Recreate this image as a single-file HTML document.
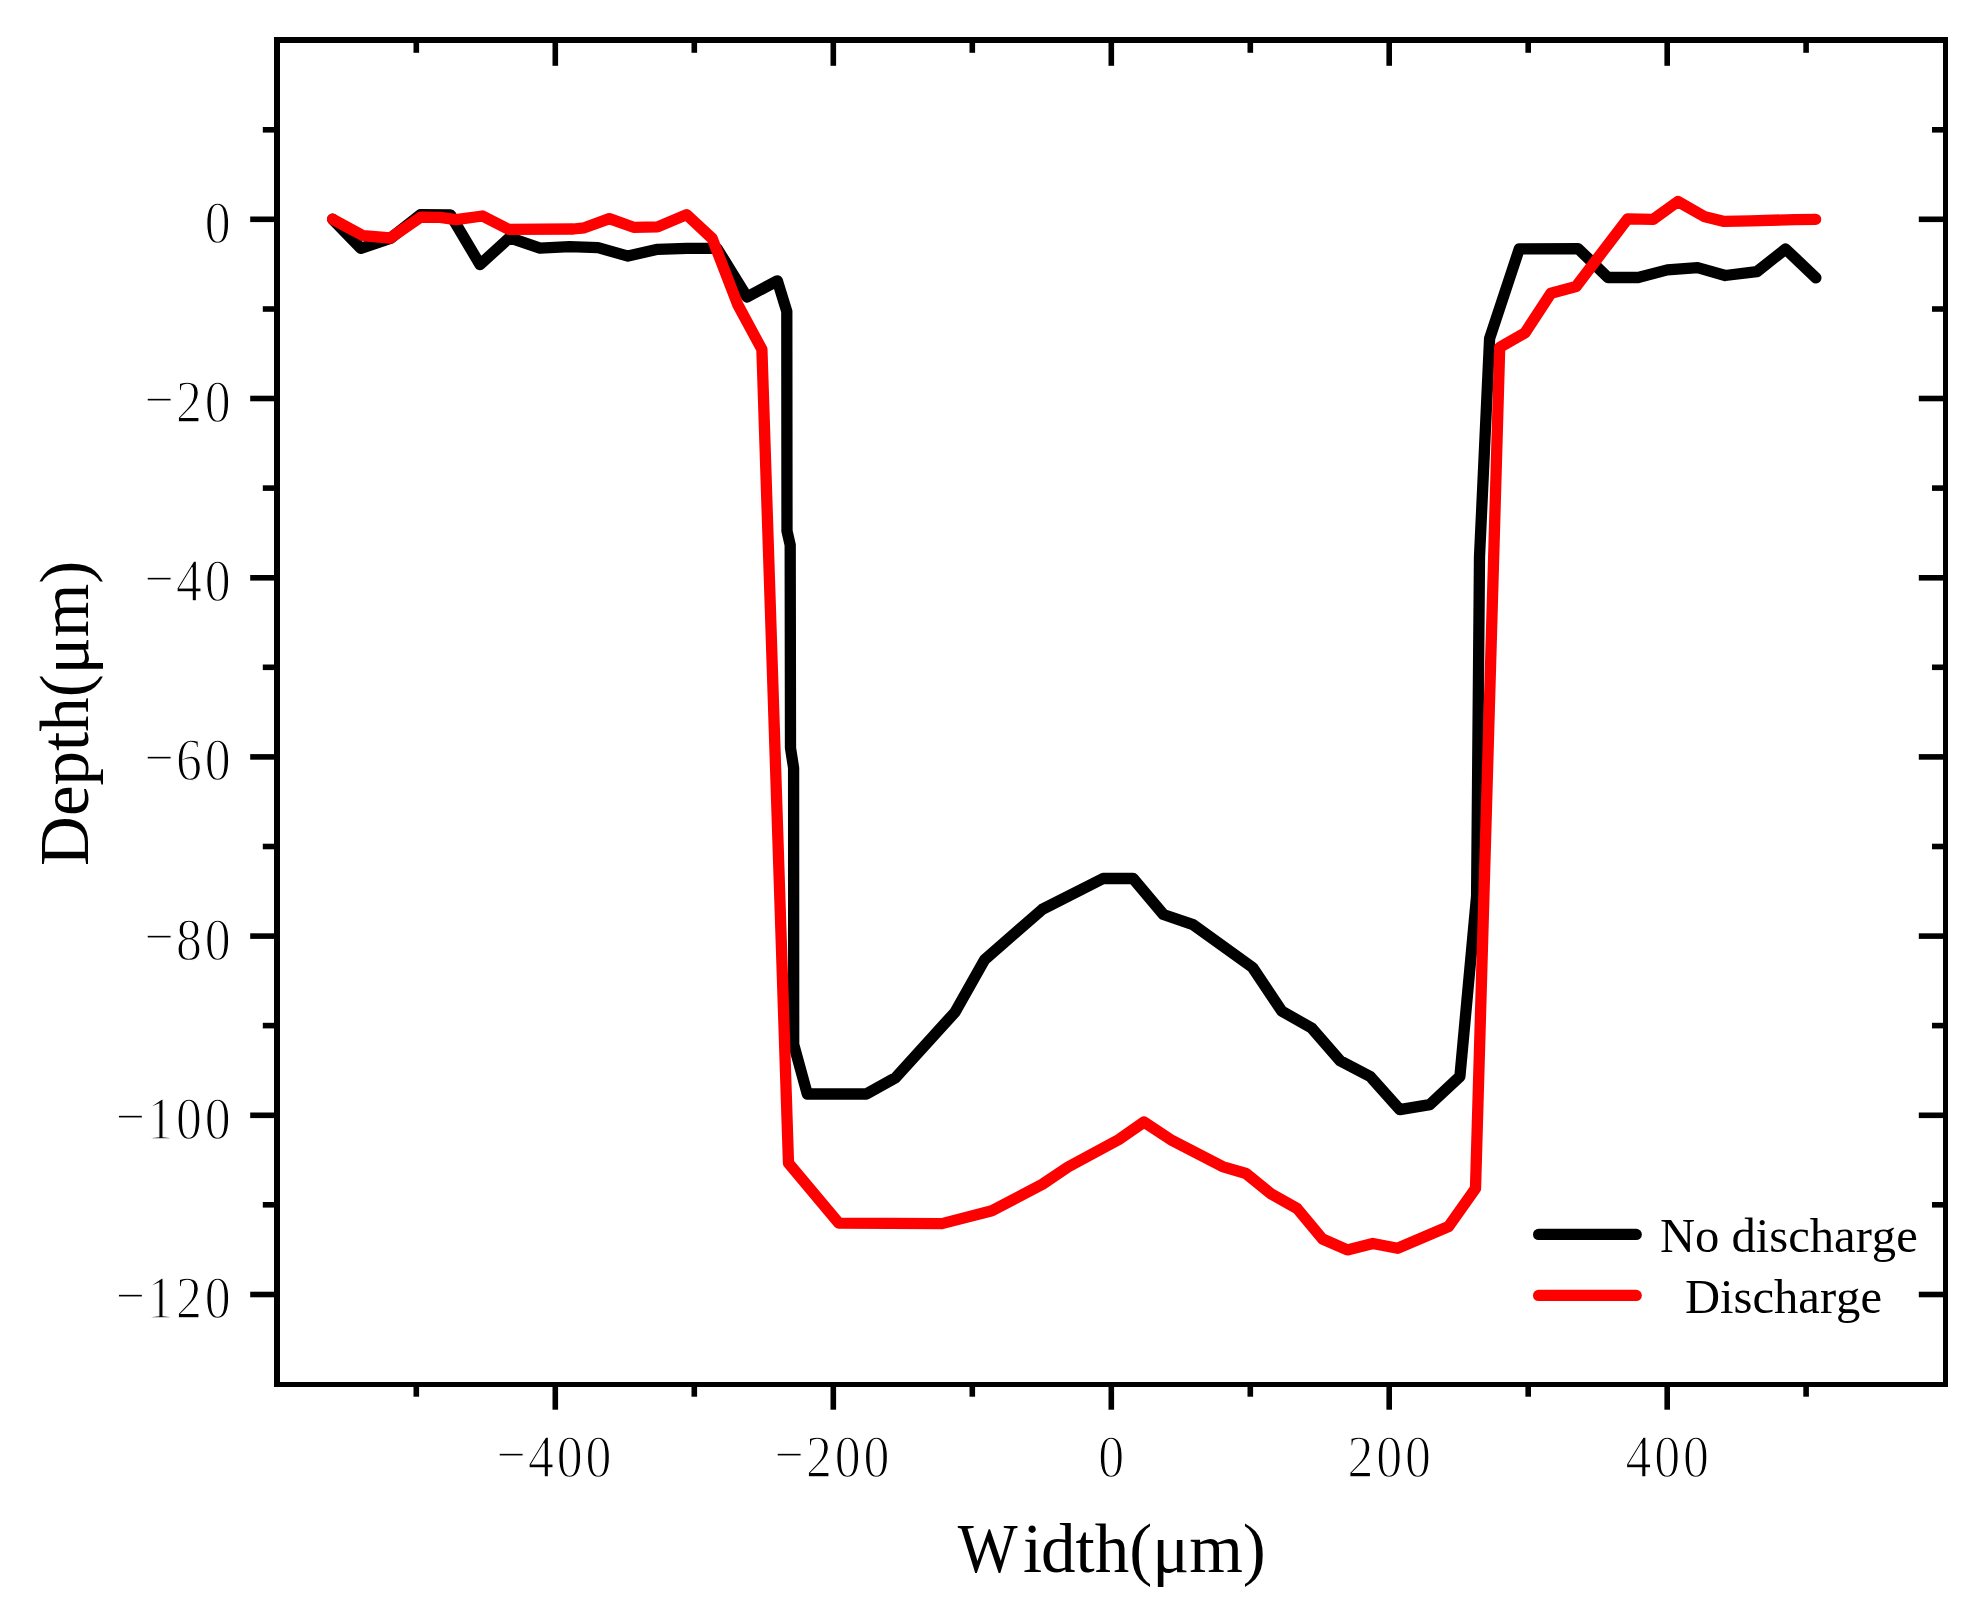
<!DOCTYPE html>
<html lang="en">
<head>
<meta charset="utf-8">
<title>Depth vs Width</title>
<style>
html,body{margin:0;padding:0;background:#fff;}
body{width:1979px;height:1605px;overflow:hidden;}
svg{display:block;}
text{font-family:"Liberation Serif","Times New Roman",serif;fill:#000;font-kerning:none;}
.tk{font-size:57.6px;stroke:#fff;stroke-width:1.3px;}
.ax{font-size:69px;}
.lg{font-size:48.6px;}
</style>
</head>
<body>
<svg width="1979" height="1605" viewBox="0 0 1979 1605">
<rect x="0" y="0" width="1979" height="1605" fill="#fff"/>
<polyline fill="none" stroke="#000" stroke-width="11.3" stroke-linejoin="round" stroke-linecap="round" points="332.6,219.2 360.8,248.3 390.3,238.5 420.5,214.6 450.5,214.8 480.0,264.6 509.5,237.7 540.0,248.2 569.5,246.6 598.0,247.6 628.0,256.1 657.6,249.3 687.0,248.4 717.0,248.4 747.0,297.0 777.4,280.8 786.8,311.4 787.0,531.0 790.2,545.0 790.5,748.0 793.6,768.0 793.7,1044.4 807.3,1094.0 866.3,1094.0 895.5,1077.8 955.0,1012.2 984.6,959.7 1042.2,909.4 1103.1,878.5 1133.1,878.5 1163.4,914.5 1193.0,924.6 1252.6,967.5 1281.8,1011.2 1311.8,1028.2 1340.1,1060.8 1370.2,1076.5 1399.7,1109.6 1429.8,1104.6 1459.9,1076.5 1476.6,896.0 1479.5,557.0 1489.6,338.6 1519.3,248.8 1578.2,248.7 1607.9,277.5 1638.2,277.5 1667.3,269.9 1697.6,267.6 1725.2,275.5 1756.8,271.7 1785.6,249.0 1815.9,277.8"/>
<polyline fill="none" stroke="#f00" stroke-width="11.3" stroke-linejoin="round" stroke-linecap="round" points="332.6,219.2 363.0,235.6 390.3,238.0 420.7,217.2 440.0,217.4 456.0,219.6 482.5,216.0 508.5,229.3 573.4,229.0 584.3,227.8 609.4,218.6 633.6,227.3 657.6,226.9 686.6,214.6 712.2,238.5 737.8,304.8 761.9,349.4 788.5,1163.2 838.8,1223.1 941.9,1223.6 991.9,1210.8 1042.4,1184.3 1068.2,1166.9 1118.7,1139.6 1144.0,1122.0 1172.2,1140.6 1222.5,1166.6 1246.0,1173.5 1271.3,1194.0 1297.1,1208.5 1322.5,1239.0 1347.3,1249.9 1372.8,1243.5 1397.6,1248.3 1448.6,1226.5 1475.5,1188.5 1499.7,347.4 1525.0,332.9 1551.0,293.2 1576.1,286.5 1627.6,218.8 1653.2,219.3 1677.9,201.5 1704.9,216.8 1724.2,221.4 1750.7,220.8 1794.7,219.6 1815.6,219.4"/>
<g stroke="#000" stroke-width="5.6" fill="none">
<line x1="277.05" y1="219.3" x2="250.2" y2="219.3"/><line x1="1945.5" y1="219.3" x2="1918.8" y2="219.3"/>
<line x1="277.05" y1="398.5" x2="250.2" y2="398.5"/><line x1="1945.5" y1="398.5" x2="1918.8" y2="398.5"/>
<line x1="277.05" y1="577.8" x2="250.2" y2="577.8"/><line x1="1945.5" y1="577.8" x2="1918.8" y2="577.8"/>
<line x1="277.05" y1="756.9" x2="250.2" y2="756.9"/><line x1="1945.5" y1="756.9" x2="1918.8" y2="756.9"/>
<line x1="277.05" y1="936.1" x2="250.2" y2="936.1"/><line x1="1945.5" y1="936.1" x2="1918.8" y2="936.1"/>
<line x1="277.05" y1="1115.3" x2="250.2" y2="1115.3"/><line x1="1945.5" y1="1115.3" x2="1918.8" y2="1115.3"/>
<line x1="277.05" y1="1294.5" x2="250.2" y2="1294.5"/><line x1="1945.5" y1="1294.5" x2="1918.8" y2="1294.5"/>
<line x1="277.05" y1="129.8" x2="262.8" y2="129.8"/><line x1="1945.5" y1="129.8" x2="1932" y2="129.8"/>
<line x1="277.05" y1="309.0" x2="262.8" y2="309.0"/><line x1="1945.5" y1="309.0" x2="1932" y2="309.0"/>
<line x1="277.05" y1="488.1" x2="262.8" y2="488.1"/><line x1="1945.5" y1="488.1" x2="1932" y2="488.1"/>
<line x1="277.05" y1="667.3" x2="262.8" y2="667.3"/><line x1="1945.5" y1="667.3" x2="1932" y2="667.3"/>
<line x1="277.05" y1="846.5" x2="262.8" y2="846.5"/><line x1="1945.5" y1="846.5" x2="1932" y2="846.5"/>
<line x1="277.05" y1="1025.6" x2="262.8" y2="1025.6"/><line x1="1945.5" y1="1025.6" x2="1932" y2="1025.6"/>
<line x1="277.05" y1="1204.8" x2="262.8" y2="1204.8"/><line x1="1945.5" y1="1204.8" x2="1932" y2="1204.8"/>
<line x1="555.3" y1="1384.5" x2="555.3" y2="1409.7"/><line x1="555.3" y1="39.9" x2="555.3" y2="65.8"/>
<line x1="833.3" y1="1384.5" x2="833.3" y2="1409.7"/><line x1="833.3" y1="39.9" x2="833.3" y2="65.8"/>
<line x1="1111.3" y1="1384.5" x2="1111.3" y2="1409.7"/><line x1="1111.3" y1="39.9" x2="1111.3" y2="65.8"/>
<line x1="1389.2" y1="1384.5" x2="1389.2" y2="1409.7"/><line x1="1389.2" y1="39.9" x2="1389.2" y2="65.8"/>
<line x1="1667.2" y1="1384.5" x2="1667.2" y2="1409.7"/><line x1="1667.2" y1="39.9" x2="1667.2" y2="65.8"/>
<line x1="416.3" y1="1384.5" x2="416.3" y2="1396.7"/><line x1="416.3" y1="39.9" x2="416.3" y2="52.8"/>
<line x1="694.3" y1="1384.5" x2="694.3" y2="1396.7"/><line x1="694.3" y1="39.9" x2="694.3" y2="52.8"/>
<line x1="972.3" y1="1384.5" x2="972.3" y2="1396.7"/><line x1="972.3" y1="39.9" x2="972.3" y2="52.8"/>
<line x1="1250.3" y1="1384.5" x2="1250.3" y2="1396.7"/><line x1="1250.3" y1="39.9" x2="1250.3" y2="52.8"/>
<line x1="1528.2" y1="1384.5" x2="1528.2" y2="1396.7"/><line x1="1528.2" y1="39.9" x2="1528.2" y2="52.8"/>
<line x1="1806.1" y1="1384.5" x2="1806.1" y2="1396.7"/><line x1="1806.1" y1="39.9" x2="1806.1" y2="52.8"/>
</g>
<path fill="#000" fill-rule="evenodd" d="M274 37H1948V1387H274Z M280 43V1382H1943V43Z"/>
<text class="tk" transform="translate(232.2,242.8) scale(0.9,1.05)" text-anchor="middle" x="-16.00" y="0">0</text>
<text class="tk" transform="translate(232.2,421.9) scale(0.9,1.05)" text-anchor="middle" x="-81.11 -48.00 -16.00" y="-2.10 0 0">−20</text>
<text class="tk" transform="translate(232.2,601.1) scale(0.9,1.05)" text-anchor="middle" x="-81.11 -48.00 -16.00" y="-2.10 0 0">−40</text>
<text class="tk" transform="translate(232.2,780.3) scale(0.9,1.05)" text-anchor="middle" x="-81.11 -48.00 -16.00" y="-2.10 0 0">−60</text>
<text class="tk" transform="translate(232.2,959.5) scale(0.9,1.05)" text-anchor="middle" x="-81.11 -48.00 -16.00" y="-2.10 0 0">−80</text>
<text class="tk" transform="translate(232.2,1138.8) scale(0.9,1.05)" text-anchor="middle" x="-113.11 -80.00 -48.00 -16.00" y="-2.10 0 0 0">−100</text>
<text class="tk" transform="translate(232.2,1317.9) scale(0.9,1.05)" text-anchor="middle" x="-113.11 -80.00 -48.00 -16.00" y="-2.10 0 0 0">−120</text>
<text class="tk" transform="translate(612.9,1476.9) scale(0.9,1.05)" text-anchor="middle" x="-113.11 -80.00 -48.00 -16.00" y="-2.10 0 0 0">−400</text>
<text class="tk" transform="translate(890.9,1476.9) scale(0.9,1.05)" text-anchor="middle" x="-113.11 -80.00 -48.00 -16.00" y="-2.10 0 0 0">−200</text>
<text class="tk" transform="translate(1125.7,1476.9) scale(0.9,1.05)" text-anchor="middle" x="-16.00" y="0">0</text>
<text class="tk" transform="translate(1432.4,1476.9) scale(0.9,1.05)" text-anchor="middle" x="-80.00 -48.00 -16.00" y="0 0 0">200</text>
<text class="tk" transform="translate(1710.4,1476.9) scale(0.9,1.05)" text-anchor="middle" x="-80.00 -48.00 -16.00" y="0 0 0">400</text>
<text class="ax" x="957.7" y="1571.6"><tspan textLength="59.9" lengthAdjust="spacingAndGlyphs">W</tspan><tspan x="1023.1">i</tspan><tspan x="1041.03">dth(μm)</tspan></text>
<text class="ax" transform="translate(88.4,713.3) rotate(-90)" text-anchor="middle">Depth(μm)</text>
<line x1="1538.6" y1="1234.4" x2="1636.2" y2="1234.4" stroke="#000" stroke-width="11.3" stroke-linecap="round"/>
<line x1="1538.6" y1="1295.4" x2="1636.2" y2="1295.4" stroke="#f00" stroke-width="11.3" stroke-linecap="round"/>
<text class="lg" x="1660" y="1252.3">No discharge</text>
<text class="lg" x="1685" y="1312.7">Discharge</text>
</svg>
</body>
</html>
